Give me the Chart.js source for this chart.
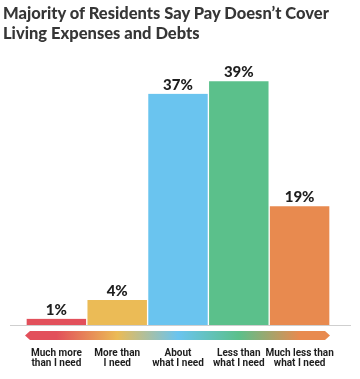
<!DOCTYPE html>
<html>
<head>
<meta charset="utf-8">
<script src="https://cdn.jsdelivr.net/npm/chart.js@4.4.1/dist/chart.umd.min.js"></script>
<style>
  html, body { margin: 0; padding: 0; background: #fff; }
  #wrap { position: relative; width: 360px; height: 379px; overflow: hidden; }
  #title {
    position: absolute; left: 3px; top: 3px; margin: 0;
    font: 900 16.5px Lato, sans-serif; line-height: 20px; color: #363636;
  }
  #chart { position: absolute; left: 0; top: 0; }
</style>
</head>
<body>
<div id="wrap">
  <canvas id="chart" width="360" height="379"></canvas>
  <h1 id="title">Majority of Residents Say Pay Doesn’t Cover<br>Living Expenses and Debts</h1>
</div>
<script>
// ---------------------------------------------------------------------------
// Data
// ---------------------------------------------------------------------------

const categories = [
  ['Much more', 'than I need'],
  ['More than', 'I need'],
  ['About', 'what I need'],
  ['Less than', 'what I need'],
  ['Much less than', 'what I need'],
];
const shares = [1, 4, 37, 39, 19];
const barColors = ['#e2505b', '#ebbb56', '#6ac4ef', '#5bc08b', '#e88a4f'];

// ---------------------------------------------------------------------------
// Plugins: value labels, baseline, gradient arrow
// ---------------------------------------------------------------------------

const decorations = {
  id: 'decorations',
  afterDatasetsDraw(chart) {
    const { ctx, chartArea, scales: { x, y } } = chart;
    const base = y.getPixelForValue(0);

    // baseline
    ctx.save();
    ctx.strokeStyle = '#cfcfcf';
    ctx.lineWidth = 1;
    ctx.beginPath();
    ctx.moveTo(chartArea.left - 16, base + 0.5);
    ctx.lineTo(chartArea.right + 21, base + 0.5);
    ctx.stroke();

    // value labels
    ctx.fillStyle = '#1e1e1e';
    ctx.font = '900 15px Lato, sans-serif';
    ctx.textAlign = 'center';
    ctx.textBaseline = 'alphabetic';
    shares.forEach((v, i) => {
      ctx.fillText(v + '%', x.getPixelForValue(i), y.getPixelForValue(v) - 4);
    });

    // gradient arrow under the axis
    const left = chartArea.left - 1, right = chartArea.right;
    const top = base + 6, bot = base + 15, mid = (top + bot) / 2, tip = 5;
    const grad = ctx.createLinearGradient(left, 0, right, 0);
    barColors.forEach((c, i) => {
      const px = x.getPixelForValue(i);
      grad.addColorStop((px - left) / (right - left), c);
    });
    grad.addColorStop(0, barColors[0]);
    grad.addColorStop(1, barColors[barColors.length - 1]);
    ctx.fillStyle = grad;
    ctx.beginPath();
    ctx.moveTo(left, mid);
    ctx.lineTo(left + tip, top);
    ctx.lineTo(right - tip, top);
    ctx.lineTo(right, mid);
    ctx.lineTo(right - tip, bot);
    ctx.lineTo(left + tip, bot);
    ctx.closePath();
    ctx.fill();
    ctx.restore();
  },
};

// ---------------------------------------------------------------------------
// Chart
// ---------------------------------------------------------------------------

new Chart(document.getElementById('chart'), {
  type: 'bar',
  data: {
    labels: categories,
    datasets: [{
      data: shares,
      backgroundColor: barColors,
      borderColor: '#ffffff',
      borderWidth: { top: 0, bottom: 0, left: 1, right: 1 },
      borderSkipped: false,
      barPercentage: 1,
      categoryPercentage: 1,
    }],
  },
  options: {
    responsive: false,
    animation: false,
    events: [],
    layout: { padding: { left: 26, right: 30, top: 75, bottom: 0 } },
    plugins: { legend: { display: false }, tooltip: { enabled: false } },
    scales: {
      x: {
        grid: { display: false, drawTicks: false },
        border: { display: false },
        afterFit(scale) { scale.height = 54; },
        ticks: {
          color: '#1e1e1e',
          padding: 23,
          maxRotation: 0,
          autoSkip: false,
          font: { family: 'Roboto, sans-serif', weight: 'bold', size: 10, lineHeight: 1.05 },
        },
      },
      y: { display: false, min: 0, max: 40 },
    },
  },
  plugins: [decorations],
});
</script>
</body>
</html>
